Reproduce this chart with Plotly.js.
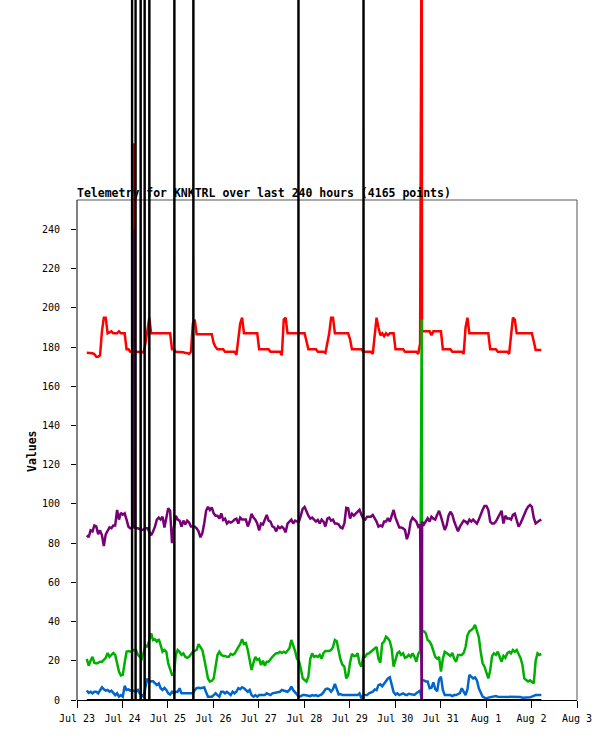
<!DOCTYPE html>
<html>
<head>
<meta charset="utf-8">
<script src="https://cdn.plot.ly/plotly-3.0.1.min.js"></script>
<style>html,body{margin:0;padding:0;background:#fff;}#chart{width:615px;height:741px;}</style>
</head>
<body>
<div id="chart"></div>
<script>
// hourly samples starting at this time
const startTime = '2023-07-23 05:10';
const stepHours = 1;

const redValues = [
177.1,177.1,177.1,176.8,176.4,175.1,175.1,175.8,188,195,195,187,187.5,188,187,187,187,188,187,187,187,178.9,178.9,177.6,
177.6,177.6,177.6,177.6,177.6,177.6,177.3,182,189,195,187,187,187,187,187,187,187,187,187,187,187,178.9,178.9,177.6,
177.6,177.6,177.6,177.3,177,177,176.5,177.6,192,194,186.5,186.5,186.5,186.5,186.5,186.5,186.5,186.5,186.5,182,180,178.9,178.9,178.9,
178.9,177.6,177.6,177.6,177.6,177.6,177.6,176,183,192,195,187,187,187,187,187,187,187,187,178.9,178.9,178.9,178.9,178.9,
178.9,177.6,177.6,177.6,177.6,177.6,177.6,175.8,194,195,187,187,187,187,187,187,187,187,187,187,183,178.9,178.9,178.9,
178.9,178.9,177.6,177.6,177.6,177.6,177,182,187,195,195,187,187,187,187,187,187,187,187,184,178.9,178.9,178.9,178.9,
178.9,178.9,177.6,177.6,177.6,177.6,177.6,176.5,186,195,190,186,187,185.5,187,186,187,187,187,178.9,178.9,178.9,178.9,178.9,
177.6,177.6,177.6,177.6,177.6,177.6,177.6,176.5,182,188,188,188,188,188,186,188,188,188,188,188,178.9,178.9,178.9,178.9,
178.9,177.6,177.6,177.6,177.6,177.6,177.6,176.5,190,195,187,187,187,187,187,187,187,187,187,187,187,178.9,178.9,178.9,
178.9,177.6,177.6,177.6,177.6,177.6,177.6,176.5,186,195,194,187,187,187,187,187,187,187,187,187,183,178.5,178.5,178.5,
178.5];

const greenValues = [
21,17.5,20,22,19,18.7,19,19.5,19.5,20.4,21.5,24,22,23,24,23,18.5,14.5,12.5,12.8,19,24.6,25,24.6,
25,25.5,25.5,23,22,21,24,28,27,30,34,30.6,31,29.8,31,28,24.6,25.5,24.6,18.7,15,12.8,13,23,
25.5,24.6,23,23.8,22,21.5,22,23.5,24.6,25,25.5,28.5,27,25.5,21,16,11,9.4,9.8,11,16,23,24.6,23,
22.5,22.5,22,22,23.5,23,23.5,25.5,27,28.5,31,28.5,29,25.5,21,15.3,19,22,20.5,21,17.8,20,17.5,19.5,
19.5,21,22,23,23.8,23.8,24.6,24,24.6,24,25.5,26.4,30.6,28,25,21,20,16,11,10.2,9.4,12,21,23.8,
22,22.5,22,23,21,24,25,25,25,25.5,27,30.6,30,25,20.5,18,17,11,12.5,19,23.5,22.5,22.5,23.8,
18.7,17,22,22,23.5,23.8,24.6,25.5,26.4,27,21,19,28.9,29.8,32.3,31.5,30,26,17,20,23.8,24.6,23,23.8,
21.5,22,23,22,23.8,22,19.5,23.5,25,35,35,34,30.6,29.8,28,25,22,21,22,14.5,21,24.6,24,23,
22.5,24,21,19.5,23,23,23,24,27,33,35,35.7,36.5,38.3,35,32,24.5,18.7,17,14,11,15,22.5,23.8,
23,24.6,22.5,19.5,22.5,21.5,23.8,24.6,23.8,25.5,24.6,25.5,23.5,21.5,18,11,10.2,9.4,10,9,8.5,20,23.8,23,
23.5];

const blueValues = [
4.8,3.6,4.2,3.4,4.2,4.2,3.4,5.1,6.5,5.5,4.8,5.1,4.2,4.8,3.8,2.5,3.4,1.7,2.5,1.7,7.2,5.1,5.4,4.8,
5.1,4.5,4.2,5.1,3.2,2.5,1.7,6.8,11,9,9.5,9.5,8.5,7.6,8.5,6,5.1,6.2,5.1,3.4,2.8,4.2,3.4,4.2,
4.2,6,3.4,3.4,3.4,3.4,3.2,3.4,3.4,5,6,6.2,6,6.2,6.5,4,1.7,1.7,1.7,2.5,3.4,2.5,1.7,4.2,
4.2,3.4,4.2,3.4,2.5,4.2,3.4,4.2,6,5.5,6.5,6,5.2,4.2,5.1,2.5,1.7,2.5,1.7,2.5,2.5,2.5,2.5,3.4,
3,2.5,3.4,3.6,3.8,4.2,4.2,5.1,4.8,4.5,4.2,5.1,6.8,5,4,2.5,1.7,2,2.5,2.5,2.5,2.2,2,2.5,
2.2,2.5,2,2.5,2.8,4,5.5,5.8,5.5,4.2,5.5,8.2,5.5,2.8,3,2.5,2.5,2.5,2.5,2.5,2.7,2.6,2.5,2.5,
3.4,0.85,2.5,2.5,2.5,3.4,3.8,4.2,5.4,5,7.6,8,7,8.5,10.2,11,11.6,7,4,2.8,3.4,2.5,3,3.4,
2.8,2.5,3.2,3,2.5,2.6,3.4,4.2,4.8,10.2,10,9.4,9.4,6,6.3,9,5.5,4.5,10.5,11.9,5.1,2.5,2.5,2.5,
2.5,2,2.5,2.5,3,3.5,6,4,2.5,5.5,12.8,11.9,11,11.5,10,6,3.4,1.7,1.2,0.85,1.2,1.4,1.7,1.7,
2,1.7,1.7,1.7,1.7,1.7,1.7,1.7,1.7,1.7,1.7,1.7,1.7,1.5,1.2,1.2,1.2,1.4,1.4,1.7,2.2,2.5,2.5,2.5,
2.5];

const purpleValues = [
84,83,86.5,86,89,88.5,84.5,86.5,84,78.5,84.5,86,88,87.6,89,89,96.9,92,95.5,94.5,95.2,92,88.4,87.6,
88,88,87.6,87.6,87,86.7,87,87.6,87.6,86,84,85.9,88.4,92,93,92,93.5,88,92.5,97.8,96.5,80,88,94,
92,91.5,88.4,91.5,89.5,91.5,90.5,88.5,88.5,88.4,87.5,86,83,85,90,96.5,98.5,96.9,98.2,95.2,94,94,92.5,95.2,
91.8,92.5,90,91,90.5,91,92,92.5,90,93,92,92,92,88.5,91,95,93,92,90,86.5,90,89.5,92,94.4,
91.5,91,88.5,88,86,88.4,87.6,88.4,87.5,85.5,90,91,92,90,91.5,91,91,94,97.5,98.5,96,94,92.5,93,
92,91,91.8,90,92,91,88.5,92.5,93,91.5,92,90,90,89.5,88,87.6,90,98,97.8,92.5,95,94,95,96,
97,94.5,92.5,92,93.5,93.5,93.5,94.4,93,91,88.4,89,88.5,91,91,92.7,91,94,96.9,93,90,88,88,87.6,
86.7,82,85,91,93,92,91,88.4,89.5,91,89.5,91,92.7,91,93.5,92.5,92,94.5,96.5,93.5,90,86.7,89,94,
96,94.5,91,88.5,86,88.4,90,91.5,91,90,92,91,92,91,90,92,95,97,99,99,97,91,90,90,
91,92.7,95,96.5,90,94,92.5,92.7,92,94.4,95,92,88.4,90,92.5,95,96.9,98.6,99.5,98.5,93,90,91,91.5,
92];

// short spikes (sampled between the hourly points)
const eventTimes = ['2023-07-24 06:05', '2023-07-24 06:08', '2023-07-30 14:00'];
const redEvents = [284, 177.6, 420];
const purpleEvents = [240, 88, 0];
const greenEvents = [null, null, 194];
const blueEvents = [null, null, 0];

const blackTimes = ['2023-07-23 05:10',
 '2023-07-24 05:01','2023-07-24 05:05','2023-07-24 05:09',
 '2023-07-24 06:52','2023-07-24 06:56','2023-07-24 07:00',
 '2023-07-24 09:32','2023-07-24 09:37','2023-07-24 09:42',
 '2023-07-24 11:38','2023-07-24 11:43','2023-07-24 11:48',
 '2023-07-24 14:07','2023-07-24 14:12','2023-07-24 14:17',
 '2023-07-25 03:20','2023-07-25 03:25','2023-07-25 03:30',
 '2023-07-25 13:22','2023-07-25 13:27','2023-07-25 13:32',
 '2023-07-27 20:51','2023-07-27 20:56','2023-07-27 21:01',
 '2023-07-29 07:12','2023-07-29 07:17','2023-07-29 07:22',
 '2023-08-02 05:10'];
const blackValues = [0, 0,2000,0, 0,2000,0, 0,2000,0, 0,2000,0, 0,2000,0, 0,2000,0, 0,2000,0, 0,2000,0, 0,2000,0, 0];

const yTicks = [0,20,40,60,80,100,120,140,160,180,200,220,240];
const titleText = 'Telemetry for KNKTRL over last 240 hours (4165 points)';
const yTitle = 'Values';

function toMs(s){
  const m = s.match(/(\d+)-(\d+)-(\d+) (\d+):(\d+)/);
  return Date.UTC(+m[1], +m[2]-1, +m[3], +m[4], +m[5]);
}
function build(values, events){
  const t0 = toMs(startTime);
  const pts = values.map((v,i)=>[t0 + i*stepHours*3600000, v]);
  events.forEach((v,k)=>{ if(v!==null) pts.push([toMs(eventTimes[k]), v]); });
  pts.sort((a,b)=>a[0]-b[0]);
  return {x: pts.map(p=>p[0]), y: pts.map(p=>p[1])};
}

const FONT = 'DejaVu Sans Mono, Liberation Mono, monospace';
const red = build(redValues, redEvents);
const green = build(greenValues, greenEvents);
const blue = build(blueValues, blueEvents);
const purple = build(purpleValues, purpleEvents);
const black = {x: blackTimes.map(toMs), y: blackValues};

const mk = (d, color, name, w) => ({x: d.x, y: d.y, type: 'scatter', mode: 'lines', name: name,
  line: {color: color, width: w}, hoverinfo: 'skip'});

const traces = [
  mk(red, '#ff0000', 'red', 2.5),
  mk(green, '#00b000', 'green', 2.5),
  mk(blue, '#0066cc', 'blue', 2.5),
  mk(purple, '#770077', 'purple', 2.5),
  mk(black, '#000000', 'black', 2.2)
];

const yTop = 255;
const yMax = 357;

const layout = {
  width: 615, height: 741,
  margin: {l: 77, r: 38, t: 0, b: 41, pad: 0},
  paper_bgcolor: '#ffffff', plot_bgcolor: '#ffffff',
  showlegend: false,
  font: {family: FONT, size: 10, color: '#000'},
  title: {text: '<b>' + titleText + '</b>', font: {family: FONT, size: 11.5, color: '#000'},
    xref: 'paper', x: 0, xanchor: 'left', yref: 'container', y: 0.7402, yanchor: 'middle'},
  xaxis: {type: 'date', range: ['2023-07-23 00:00', '2023-08-03 00:00'],
    tick0: '2023-07-23', dtick: 86400000, tickformat: '%b %-d',
    ticks: 'outside', ticklen: 7, tickwidth: 1, tickcolor: '#000',
    showline: true, linecolor: '#000', linewidth: 1,
    showgrid: false, zeroline: false, fixedrange: true,
    ticklabelstandoff: 2,
    tickfont: {family: FONT, size: 10, color: '#000'}},
  yaxis: {range: [0, yMax], tickmode: 'array', tickvals: yTicks, ticktext: yTicks.map(String),
    ticks: 'outside', ticklen: 5, tickwidth: 1, tickcolor: '#000',
    showline: false, showgrid: false, zeroline: false, fixedrange: true,
    ticklabelstandoff: 9,
    tickfont: {family: FONT, size: 10, color: '#000'}},
  shapes: [
    {type: 'line', xref: 'paper', yref: 'y', x0: 0, x1: 1, y0: yTop, y1: yTop, line: {color: '#555555', width: 1}, layer: 'below'},
    {type: 'line', xref: 'paper', yref: 'y', x0: 1, x1: 1, y0: 0, y1: yTop, line: {color: '#555555', width: 1}, layer: 'below'},
    {type: 'line', xref: 'paper', yref: 'y', x0: 0, x1: 0, y0: 0, y1: yTop, line: {color: '#000000', width: 1}, layer: 'below'}
  ],
  annotations: [
    {text: '<b>' + yTitle + '</b>', xref: 'paper', yref: 'paper', x: -0.09, y: 0.3557,
     xanchor: 'center', yanchor: 'middle', textangle: -90, showarrow: false,
     font: {family: FONT, size: 11.5, color: '#000'}}
  ]
};

Plotly.newPlot('chart', traces, layout, {displayModeBar: false, staticPlot: true});
</script>
</body>
</html>
